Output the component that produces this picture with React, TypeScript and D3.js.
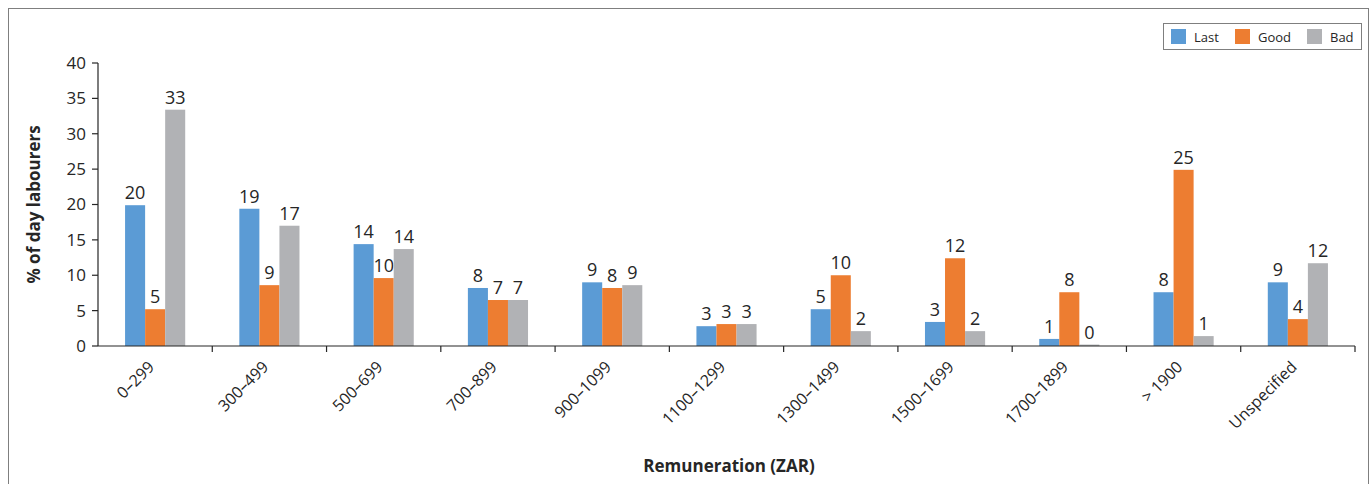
import React from "react";
import * as d3 from "d3";

const categories = ["0–299", "300–499", "500–699", "700–899", "900–1099", "1100–1299", "1300–1499", "1500–1699", "1700–1899", "> 1900", "Unspecified"];
const lastValues = [19.9, 19.4, 14.4, 8.2, 9.0, 2.8, 5.2, 3.4, 1.0, 7.6, 9.0];
const goodValues = [5.2, 8.6, 9.6, 6.5, 8.2, 3.1, 10.0, 12.4, 7.6, 24.9, 3.8];
const badValues = [33.4, 17.0, 13.7, 6.5, 8.6, 3.1, 2.1, 2.1, 0.2, 1.4, 11.7];
const seriesNames = ["Last", "Good", "Bad"];
const seriesColors = ["#5B9BD5", "#ED7D31", "#B1B2B5"];
const yTicks = [0, 5, 10, 15, 20, 25, 30, 35, 40];

const W = 1372;
const H = 484;
const FONT = "'Open Sans', Lato, sans-serif";

export default function App() {
  const left = 98, right = 1355, top = 63, bottom = 346;
  const x = d3.scaleBand<string>().domain(categories).range([left, right]);
  const inner = d3.scaleBand<string>().domain(seriesNames).range([0, x.bandwidth()]).paddingInner(0).paddingOuter(1.35);
  const y = d3.scaleLinear().domain([0, 40]).range([bottom, top]);
  const series = [lastValues, goodValues, badValues];
  const textColor = "#262626";

  return (
    <svg width={W} height={H} style={{ position: "absolute", left: 0, top: 0, background: "#fff" }} fontFamily={FONT}>
      <rect x={8.5} y={8.5} width={1360} height={490} fill="none" stroke="#7f7f7f" strokeWidth={1} />
      {/* bars */}
      {categories.map((c, i) => (
        <g key={c}>
          {series.map((vals, s) => {
            const bx = (x(c) as number) + (inner(seriesNames[s]) as number);
            const v = vals[i];
            return (
              <g key={s}>
                <rect x={bx} y={y(v)} width={inner.bandwidth()} height={bottom - y(v)} fill={seriesColors[s]} />
                <text x={bx + inner.bandwidth() / 2} y={y(v) - 6} textAnchor="middle" fontSize={18} fill={textColor}>
                  {Math.round(v)}
                </text>
              </g>
            );
          })}
        </g>
      ))}
      {/* y axis */}
      <line x1={left} x2={left} y1={top} y2={bottom} stroke="#262626" strokeWidth={1.2} />
      {yTicks.map((t) => (
        <g key={t}>
          <line x1={left - 6} x2={left} y1={y(t)} y2={y(t)} stroke="#262626" strokeWidth={1.2} />
          <text x={left - 12} y={y(t)} dy="0.35em" textAnchor="end" fontSize={17} fill={textColor}>
            {t}
          </text>
        </g>
      ))}
      {/* x axis */}
      <line x1={left} x2={right} y1={bottom} y2={bottom} stroke="#262626" strokeWidth={1.2} />
      {categories.map((c, i) => (
        <line key={"t" + i} x1={(x(c) as number) + x.bandwidth()} x2={(x(c) as number) + x.bandwidth()} y1={bottom} y2={bottom + 6} stroke="#262626" strokeWidth={1.2} />
      ))}
      {categories.map((c) => {
        const cx = (x(c) as number) + x.bandwidth() / 2;
        return (
          <text key={"l" + c} transform={`translate(${cx},${bottom + 22}) rotate(-45)`} textAnchor="end" fontSize={16} fill={textColor}>
            {c}
          </text>
        );
      })}
      <text x={729} y={472} textAnchor="middle" fontSize={17} fontWeight="bold" fill={textColor}>
        Remuneration (ZAR)
      </text>
      <text transform={`translate(40,${(top + bottom) / 2}) rotate(-90)`} textAnchor="middle" fontSize={17} fontWeight="bold" fill={textColor}>
        % of day labourers
      </text>
      {/* legend */}
      <rect x={1163.5} y={23.5} width={198} height={26} fill="#fff" stroke="#7f7f7f" />
      {seriesNames.map((n, s) => {
        const lx = [1171, 1235, 1307][s];
        return (
          <g key={n}>
            <rect x={lx} y={29} width={15} height={15} fill={seriesColors[s]} />
            <text x={lx + 23} y={37} dy="0.35em" fontSize={13} fill={textColor}>
              {n}
            </text>
          </g>
        );
      })}
    </svg>
  );
}
